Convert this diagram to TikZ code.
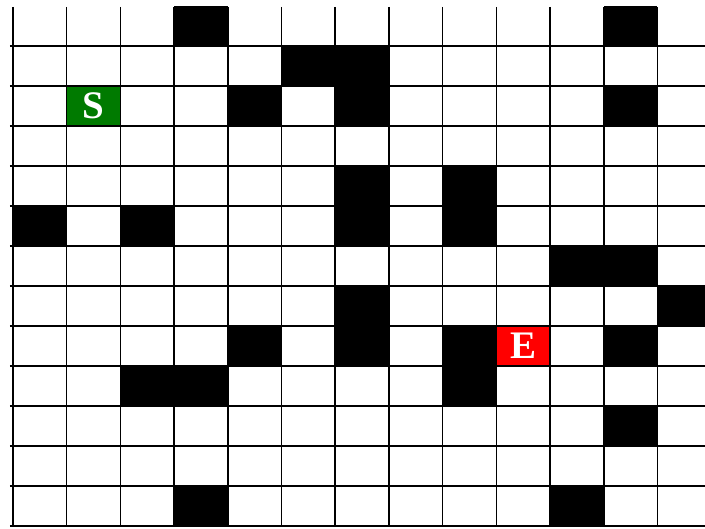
\documentclass[tikz,border=0pt]{standalone}
\usepackage{fontspec}
\setmainfont{Liberation Serif}
\usepackage{xcolor}
\usetikzlibrary{positioning}
\definecolor{startgreen}{RGB}{0,122,0}
\definecolor{endred}{RGB}{255,0,0}

\begin{document}
\begin{tikzpicture}[x=53.7pt,y=-40pt,
  gridline/.style={line width=1.6pt},
  wallcell/.style={fill=black},
  endcell/.style={minimum width=53.7pt,minimum height=40pt,inner sep=0pt,draw=black,line width=1.6pt,text=white,font=\bfseries\fontsize{39}{39}\selectfont}]
\useasboundingbox (-13/53.7,-6/40) rectangle (692/53.7,523/40);
\clip (-13/53.7,-6/40) rectangle (692/53.7,523/40);
% walls of the maze
\foreach \c/\r in {3/0,11/0,5/1,6/1,4/2,6/2,11/2,6/4,8/4,0/5,2/5,6/5,8/5,10/6,11/6,6/7,12/7,4/8,6/8,8/8,11/8,2/9,3/9,8/9,11/10,3/12,10/12}
  \fill[wallcell] (\c,\r) rectangle ++(1,1);
% grid
\foreach \c in {0,...,12}
  \draw[gridline] (\c,0.025) -- (\c,13);
\foreach \r in {1,...,13}
  \draw[gridline] (-0.06,\r) -- (12.9,\r);
% start and end
\node[endcell,fill=startgreen] (start) at (1.5,2.5) {S};
\node[endcell,fill=endred] (goal) at (9.5,8.5) {E};
\end{tikzpicture}
\end{document}
